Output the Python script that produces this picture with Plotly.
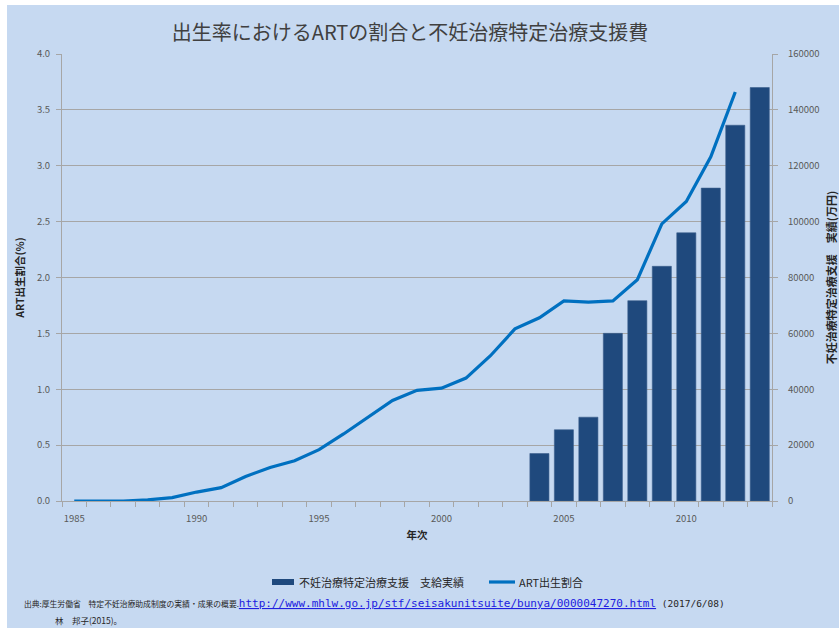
import plotly.graph_objects as go

# ART births as a share of all births (%), 1985-2012
art_years = list(range(1985, 2013))
art_share = [0.00, 0.00, 0.00, 0.01, 0.03, 0.08, 0.12, 0.22, 0.30, 0.36,
             0.46, 0.60, 0.75, 0.90, 0.99, 1.01, 1.10, 1.30, 1.54, 1.64,
             1.79, 1.78, 1.79, 1.98, 2.48, 2.68, 3.08, 3.66]

# Specific fertility treatment subsidy payments (10,000 yen), 2004-2013
aid_years = list(range(2004, 2014))
aid_amount = [17000, 25500, 30000, 60000, 71700, 84000, 96000, 112000, 134500, 148000]

x_ticks = [1985, 1990, 1995, 2000, 2005, 2010]

BG = "#C6D9F1"
BAR = "#1F497D"
LINE = "#0070C0"
GRID = "#A6A6A6"
TXT = "#595959"
JP = "Noto Sans CJK JP"

# plot area in pixels
W, H = 839, 632
L, R, T, B = 62, 67, 54, 131
PW, PH = W - L - R, H - T - B


def px(x):
    return (x - L) / PW


def py(y):
    return (H - B - y) / PH


fig = go.Figure()

fig.add_trace(go.Bar(
    x=aid_years, y=aid_amount, yaxis="y", width=0.78,
    marker=dict(color=BAR, line=dict(color="#3B5E8C", width=0.6)),
    name="不妊治療特定治療支援　支給実績",
))
fig.add_trace(go.Scatter(
    x=art_years, y=art_share, yaxis="y2", mode="lines",
    line=dict(color=LINE, width=3.2),
    name="ART出生割合",
))

fig.update_layout(
    width=W, height=H,
    margin=dict(l=L, r=R, t=T, b=B, pad=0, autoexpand=False),
    paper_bgcolor="white",
    plot_bgcolor="rgba(0,0,0,0)",
    showlegend=False,
    font=dict(family=JP, color=TXT, size=10),
    title=dict(
        text="出生率におけるARTの割合と不妊治療特定治療支援費",
        x=410 / W, xref="container", xanchor="center",
        y=1 - 33 / H, yref="container", yanchor="middle",
        font=dict(family=JP, size=20, color="#404040"),
    ),
    xaxis=dict(
        range=[1984.5, 2013.5], automargin=False,
        tickvals=x_ticks,
        ticktext=[str(v) for v in x_ticks],
        ticks="", ticklabelstandoff=9,
        tickfont=dict(size=9.5, color=TXT),
        showgrid=False, zeroline=False,
        showline=True, linecolor=GRID, linewidth=1,
        minor=dict(tick0=1984.5, dtick=1, ticks="outside", ticklen=5,
                   tickcolor=GRID, tickwidth=1, showgrid=False),
        title=dict(text="<b>年次</b>", font=dict(size=10.5, color="#262626"), standoff=7),
    ),
    yaxis=dict(
        side="right", automargin=False,
        range=[0, 160000], dtick=20000, tickformat="d",
        ticks="outside", ticklen=5, tickcolor=GRID, ticklabelstandoff=8,
        tickfont=dict(size=9.5, color=TXT),
        showgrid=False, zeroline=False,
        showline=True, linecolor=GRID, linewidth=1,
        title=dict(text="<b>不妊治療特定治療支援　実績(万円)</b>",
                   font=dict(size=11, color="#262626"), standoff=10),
    ),
    yaxis2=dict(
        overlaying="y", side="left", automargin=False,
        range=[0, 4.0], dtick=0.5, tickformat=".1f",
        ticks="outside", ticklen=5, tickcolor=GRID, ticklabelstandoff=4,
        tickfont=dict(size=9.5, color=TXT),
        showgrid=True, gridcolor=GRID, gridwidth=1.2,
        zeroline=False,
        showline=True, linecolor=GRID, linewidth=1,
        title=dict(text="<b>ART出生割合(%)</b>",
                   font=dict(size=10.5, color="#262626"), standoff=10),
    ),
)

shapes = [
    # chart background panel
    dict(type="rect", xref="paper", yref="paper", layer="below",
         x0=px(7), x1=px(W + 2), y0=py(628), y1=py(5),
         fillcolor=BG, line=dict(width=0)),
    # legend swatches
    dict(type="rect", xref="paper", yref="paper",
         x0=px(272), x1=px(294), y0=py(585), y1=py(579),
         fillcolor=BAR, line=dict(width=0)),
    dict(type="line", xref="paper", yref="paper",
         x0=px(489), x1=px(515), y0=py(582), y1=py(582),
         line=dict(color=LINE, width=3.2)),
]

annotations = [
    dict(text="不妊治療特定治療支援　支給実績", x=px(297), y=py(582),
         xanchor="left", yanchor="middle"),
    dict(text="ART出生割合", x=px(517), y=py(582),
         xanchor="left", yanchor="middle"),
    dict(text="出典:厚生労働省　特定不妊治療助成制度の実績・成果の概要."
              "<span style='color:#2020E0;font-family:DejaVu Sans Mono;font-size:11px'>"
              "<u>http://www.mhlw.go.jp/stf/seisakunitsuite/bunya/0000047270.html</u></span>"
              "<span style='font-family:DejaVu Sans Mono;font-size:9.5px'> (2017/6/08)</span>",
         x=px(22), y=py(603), xanchor="left", yanchor="middle",
         font=dict(size=7.8, color="#262626")),
    dict(text="林　邦子(2015)。", x=px(53), y=py(620),
         xanchor="left", yanchor="middle",
         font=dict(size=8.5, color="#262626")),
]
for a in annotations[:2]:
    a["font"] = dict(size=11, color="#262626")
for a in annotations:
    a.update(xref="paper", yref="paper", showarrow=False)

fig.update_layout(shapes=shapes, annotations=annotations)

fig.write_html("out.html")
